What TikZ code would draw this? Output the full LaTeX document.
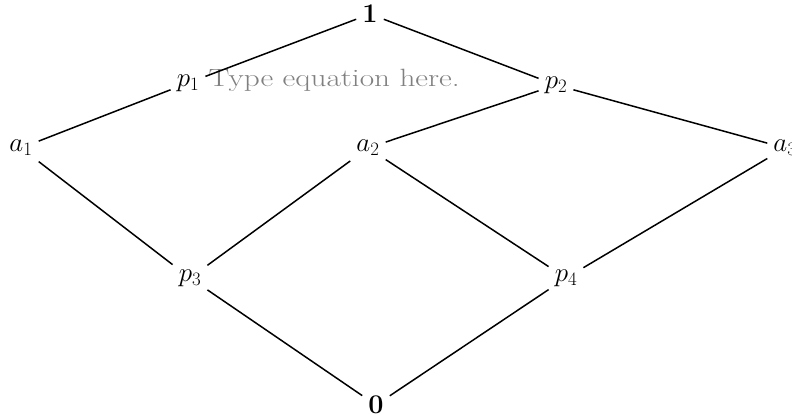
\documentclass[tikz,border=0pt]{standalone}
\usepackage{fix-cm}
\usepackage{amsmath}
\usepackage{tikz}
\usetikzlibrary{positioning}

\begin{document}
\begin{tikzpicture}[x=1pt, y=-1pt,
    elem/.style={inner sep=6pt, font=\fontsize{27}{32}\selectfont},
    hint/.style={inner sep=0pt, text=black!50, font=\fontsize{25}{30}\selectfont},
    link/.style={line width=1.5pt}]
    \useasboundingbox (0,0) rectangle (792,419);

    % Top and bottom
    \node[elem] (one) at (370,14) {$\mathbf{1}$};
    \node[elem] (zero) at (376,405) {$\mathbf{0}$};

    % Upper row
    \node[elem] (p1) at (188,83) {$p_1$};
    \node[elem] (p2) at (556,85) {$p_2$};

    % Atoms
    \node[elem] (a1) at (21,148) {$a_1$};
    \node[elem] (a2) at (368,148) {$a_2$};
    \node[elem] (a3) at (785,148) {$a_3$};

    % Lower row
    \node[elem] (p3) at (190,278) {$p_3$};
    \node[elem] (p4) at (566,278) {$p_4$};

    % Placeholder text
    \node[hint, anchor=base west] (tip) at ([xshift=3pt]p1.base east) {\scalebox{1.25}[1]{Type equation here.}};

    % Cover relations
    \foreach \lo/\hi in {p1/one, p2/one, a1/p1, a2/p2, a3/p2, p3/a1, p3/a2, p4/a2, p4/a3, zero/p3, zero/p4} {
        \draw[link] (\lo) -- (\hi);
    }
\end{tikzpicture}
\end{document}
